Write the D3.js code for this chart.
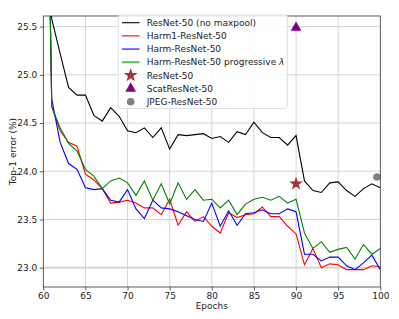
<!DOCTYPE html>
<html><head><meta charset="utf-8">
<script src="https://cdn.jsdelivr.net/npm/d3@7"></script>
<style>body{margin:0;background:#fff}svg{display:block}text{font-family:"DejaVu Sans",sans-serif}</style>
</head><body>
<script>
const epochs = d3.range(60, 101);
const resnetNoMaxpool = [27.0,25.58,25.22,24.87,24.79,24.79,24.58,24.52,24.66,24.57,24.42,24.40,24.45,24.35,24.45,24.23,24.38,24.37,24.38,24.39,24.34,24.36,24.30,24.41,24.38,24.51,24.40,24.35,24.35,24.27,24.37,23.90,23.80,23.78,23.88,23.89,23.80,23.74,23.82,23.87,23.83];
const harm1 = [30,24.67,24.42,24.30,24.26,23.97,23.91,23.82,23.67,23.68,23.70,23.67,23.62,23.62,23.55,23.71,23.44,23.58,23.48,23.53,23.43,23.36,23.57,23.52,23.55,23.56,23.63,23.53,23.53,23.43,23.35,23.03,23.20,23.00,23.04,23.03,22.98,22.98,22.98,23.02,23.01];
const harm = [30,24.75,24.30,24.08,24.02,23.83,23.81,23.82,23.70,23.68,23.81,23.61,23.51,23.70,23.62,23.61,23.58,23.54,23.50,23.48,23.67,23.43,23.59,23.44,23.56,23.57,23.60,23.56,23.56,23.61,23.58,23.14,23.14,23.07,23.11,23.11,23.02,22.98,23.05,23.13,22.98];
const harmProg = [30,24.67,24.45,24.29,24.21,24.02,23.95,23.82,23.90,23.93,23.88,23.75,23.90,23.70,23.87,23.66,23.88,23.71,23.81,23.70,23.71,23.62,23.70,23.55,23.66,23.71,23.73,23.70,23.74,23.67,23.71,23.36,23.20,23.27,23.16,23.19,23.21,23.09,23.24,23.14,23.20];
const seriesNames = ["ResNet-50 (no maxpool)","Harm1-ResNet-50","Harm-ResNet-50","Harm-ResNet-50 progressive λ"];
const markerNames = ["ResNet-50","ScatResNet-50","JPEG-ResNet-50"];
const markerPoints = [[90,23.87],[90,25.5],[99.6,23.94]];
const xTicks = [60,65,70,75,80,85,90,95,100];
const yTicks = [23.0,23.5,24.0,24.5,25.0,25.5];

const W=399,H=319, m={l:43.3,r:18.7,t:16,b:32};
const svg=d3.select("body").append("svg").attr("width",W).attr("height",H);
const x=d3.scaleLinear().domain([60,100]).range([m.l,W-m.r]);
const y=d3.scaleLinear().domain([22.8,25.61]).range([H-m.b,m.t]);

// grid
const g=svg.append("g");
g.selectAll(".gx").data(xTicks.slice(1,-1)).join("line").attr("x1",d=>x(d)).attr("x2",d=>x(d)).attr("y1",m.t).attr("y2",H-m.b).attr("stroke","#d0d0d0").attr("stroke-width",0.9);
g.selectAll(".gy").data(yTicks).join("line").attr("x1",m.l).attr("x2",W-m.r).attr("y1",d=>y(d)).attr("y2",d=>y(d)).attr("stroke","#d0d0d0").attr("stroke-width",d=>d===23.0?1.8:0.9);

svg.append("clipPath").attr("id","clip").append("rect").attr("x",m.l).attr("y",m.t).attr("width",W-m.l-m.r).attr("height",H-m.t-m.b);
const line=d3.line().x((d,i)=>x(epochs[i])).y(d=>y(d));
const series=[[resnetNoMaxpool,"#000000"],[harm1,"#ff0000"],[harm,"#0000ff"],[harmProg,"#008000"]];
const lg=svg.append("g").attr("clip-path","url(#clip)");
series.forEach(([data,c])=>lg.append("path").attr("d",line(data)).attr("fill","none").attr("stroke",c).attr("stroke-width",1.1));

const star=d3.symbol().type(d3.symbolStar).size(60);
const tri=d3.symbol().type(d3.symbolTriangle).size(50);
const circ=d3.symbol().type(d3.symbolCircle).size(45);
const mk=[[star,"#a8323a"],[tri,"#800080"],[circ,"#808080"]];
markerPoints.forEach((p,i)=>svg.append("path").attr("d",mk[i][0]()).attr("fill",mk[i][1]).attr("transform",`translate(${x(p[0])},${y(p[1])+(i===1?1:0)})`));

// axes
const ax=svg.append("g").attr("transform",`translate(0,${H-m.b})`).call(d3.axisBottom(x).tickValues(xTicks).tickSize(3.5).tickPadding(2.5).tickFormat(d3.format("d")));
const ay=svg.append("g").attr("transform",`translate(${m.l},0)`).call(d3.axisLeft(y).tickValues(yTicks).tickSize(3.5).tickPadding(2.5).tickFormat(d3.format(".1f")));
[ax,ay].forEach(a=>{a.select(".domain").remove();a.selectAll("text").attr("font-size",9).attr("fill","#222").style("font-family","DejaVu Sans");a.selectAll("line").attr("stroke","#333").attr("stroke-width",0.8);});
svg.append("rect").attr("x",m.l).attr("y",m.t).attr("width",W-m.l-m.r).attr("height",H-m.t-m.b).attr("fill","none").attr("stroke","#333").attr("stroke-width",0.8);

svg.append("text").attr("x",(m.l+W-m.r)/2).attr("y",309).attr("text-anchor","middle").attr("font-size",9).attr("fill","#222").text("Epochs");
svg.append("text").attr("transform",`translate(16,${(m.t+H-m.b)/2}) rotate(-90)`).attr("text-anchor","middle").attr("font-size",9).attr("fill","#222").text("Top-1 error (%)");

// legend
const L=svg.append("g");
L.append("rect").attr("x",118.3).attr("y",15).attr("width",169).attr("height",93.5).attr("rx",2).attr("fill","#fff").attr("fill-opacity",0.85).attr("stroke","#d8d8d8").attr("stroke-width",0.8);
const rowY=i=>22.7+i*13.17;
const hc=["#000000","#ff0000","#0000ff","#5cb85c"];
seriesNames.forEach((n,i)=>{
  L.append("line").attr("x1",122).attr("x2",139.5).attr("y1",rowY(i)).attr("y2",rowY(i)).attr("stroke",hc[i]).attr("stroke-width",i===3?2:1.1);
  const t=L.append("text").attr("x",146.7).attr("y",rowY(i)).attr("dy","0.35em").attr("font-size",9).attr("fill","#222");
  if(n.endsWith("λ")){t.append("tspan").text(n.slice(0,-1));t.append("tspan").attr("font-style","italic").text("λ");} else t.text(n);
});
markerNames.forEach((n,j)=>{
  const i=j+4;
  L.append("path").attr("d",mk[j][0]()).attr("fill",mk[j][1]).attr("transform",`translate(130.7,${rowY(i)})`);
  L.append("text").attr("x",146.7).attr("y",rowY(i)).attr("dy","0.35em").attr("font-size",9).attr("fill","#222").text(n);
});
</script>
</body></html>
